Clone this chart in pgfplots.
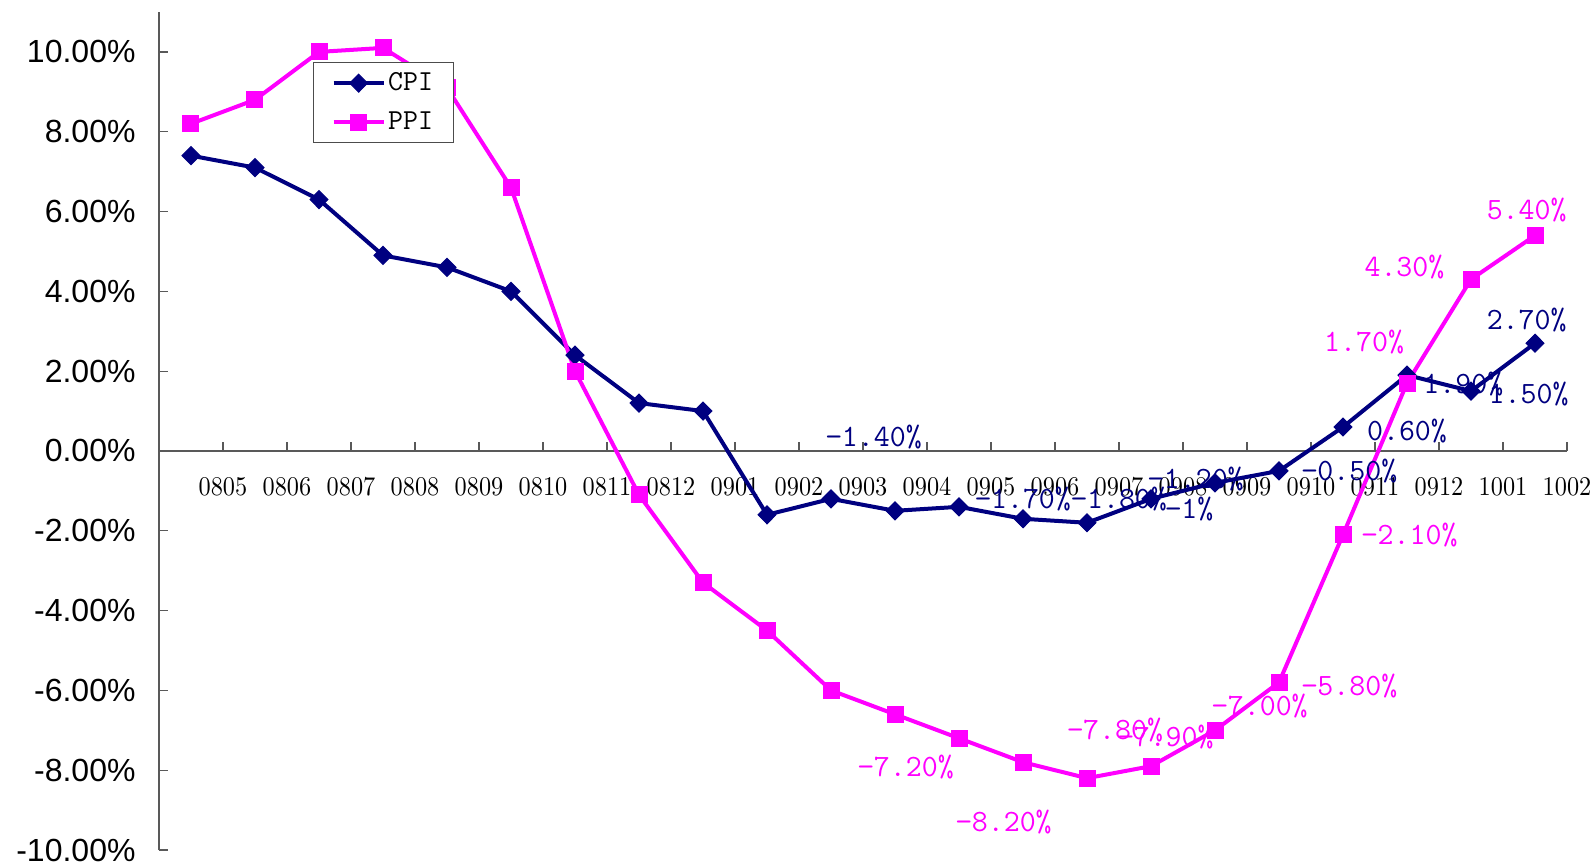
\documentclass[border=0pt]{standalone}
\usepackage{fontspec}
\usepackage{pgfplots}
\pgfplotsset{compat=1.18}
\newfontfamily\arialfont{Liberation Sans}
\newfontfamily\xlabfont[FakeStretch=0.9]{lmroman10-regular.otf}
\definecolor{cpinavy}{RGB}{0,0,128}
\definecolor{ppimag}{RGB}{255,0,255}
\begin{document}
\begin{tikzpicture}
\path[use as bounding box] (-79.5pt,-6pt) rectangle (718pt,425pt);
\begin{axis}[
    scale only axis,
    width=704pt, height=419pt,
    xmin=-0.5, xmax=21.5,
    ymin=-10, ymax=11,
    axis x line=middle,
    axis y line=left,
    axis line style={black!65, line width=0.75pt, -},
    hide obscured x ticks=false,
    hide obscured y ticks=false,
    xtick={0.5,1.5,...,21.5},
    xticklabels={0805,0806,0807,0808,0809,0810,0811,0812,0901,0902,0903,0904,0905,0906,0907,0908,0909,0910,0911,0912,1001,1002},
    ytick={-10,-8,-6,-4,-2,0,2,4,6,8,10},
    yticklabels={-10.00\%,-8.00\%,-6.00\%,-4.00\%,-2.00\%,0.00\%,2.00\%,4.00\%,6.00\%,8.00\%,10.00\%},
    tick align=inside,
    major tick length=4.5pt,
    tick style={black!65, line width=0.6pt},
    xticklabel style={font=\xlabfont\fontsize{13.5}{13.5}\selectfont, yshift=-9.75pt},
    yticklabel style={font=\arialfont\fontsize{16}{16}\selectfont, xshift=-8.2pt},
    legend style={at={(0.1094,0.9403)}, anchor=north west, draw=black!70,
        line width=0.6pt, fill=white, inner xsep=9pt, inner ysep=5pt,
        row sep=9pt, column sep=0pt,
        font=\ttfamily\fontsize{14.5}{14.5}\selectfont,
        nodes={inner xsep=1.25pt, inner ysep=0pt}},
    legend cell align=left,
    legend image code/.code={\draw[mark repeat=2,mark phase=2] plot coordinates {(0pt,0pt)(12.5pt,0pt)(25pt,0pt)};},
]

% CPI, 0805 .. 1002
\addplot[cpinavy, line width=2pt, mark=diamond*, mark size=4.5pt,
    mark options={xscale=1.33, line width=0.5pt, solid}]
    coordinates {
    (0,7.4)(1,7.1)(2,6.3)(3,4.9)(4,4.6)(5,4.0)(6,2.4)(7,1.2)(8,1.0)(9,-1.6)(10,-1.2)
    (11,-1.5)(12,-1.4)(13,-1.7)(14,-1.8)(15,-1.2)(16,-0.8)(17,-0.5)(18,0.6)(19,1.9)(20,1.5)(21,2.7)
    };

% PPI, 0805 .. 1002
\addplot[ppimag, line width=2pt, mark=square*, mark size=4pt,
    mark options={line width=0.5pt, solid}]
    coordinates {
    (0,8.2)(1,8.8)(2,10.0)(3,10.1)(4,9.1)(5,6.6)(6,2.0)(7,-1.1)(8,-3.3)(9,-4.5)(10,-6.0)
    (11,-6.6)(12,-7.2)(13,-7.8)(14,-8.2)(15,-7.9)(16,-7.0)(17,-5.8)(18,-2.1)(19,1.7)(20,4.3)(21,5.4)
    };
\legend{CPI,PPI}

% data labels, where excel left them
\tikzset{dl/.style={font=\ttfamily\fontsize{15.5}{15.5}\selectfont, inner sep=0pt}}
\node[dl, cpinavy] at (axis cs:10.67,0.36) {−1.40\%};
\node[dl, cpinavy] at (axis cs:13.0,-1.2) {−1.70\%};
\node[dl, cpinavy] at (axis cs:14.5,-1.2) {−1.80\%};
\node[dl, cpinavy] at (axis cs:15.7,-0.7) {−1.20\%};
\node[dl, cpinavy] at (axis cs:15.6,-1.45) {−1\%};
\node[dl, cpinavy] at (axis cs:18.1,-0.5) {−0.50\%};
\node[dl, cpinavy] at (axis cs:19.0,0.5) {0.60\%};
\node[dl, cpinavy] at (axis cs:19.88,1.68) {1.90\%};
\node[dl, cpinavy] at (axis cs:20.9,1.42) {1.50\%};
\node[dl, cpinavy] at (axis cs:20.87,3.28) {2.70\%};

\node[dl, ppimag] at (axis cs:20.87,6.04) {5.40\%};
\node[dl, ppimag] at (axis cs:18.96,4.6) {4.30\%};
\node[dl, ppimag] at (axis cs:18.33,2.72) {1.70\%};
\node[dl, ppimag] at (axis cs:19.04,-2.1) {−2.10\%};
\node[dl, ppimag] at (axis cs:18.1,-5.9) {−5.80\%};
\node[dl, ppimag] at (axis cs:16.7,-6.4) {−7.00\%};
\node[dl, ppimag] at (axis cs:14.44,-6.99) {−7.80\%};
\node[dl, ppimag] at (axis cs:15.23,-7.16) {−7.90\%};
\node[dl, ppimag] at (axis cs:12.70,-9.30) {−8.20\%};
\node[dl, ppimag] at (axis cs:11.17,-7.92) {−7.20\%};
\end{axis}
\end{tikzpicture}
\end{document}
